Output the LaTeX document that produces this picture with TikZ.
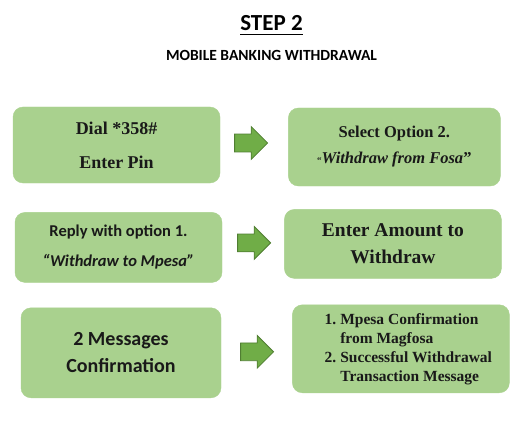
\documentclass[tikz,border=0pt]{standalone}
\usepackage{fontspec}
\setmainfont{Liberation Serif}
\newfontfamily\calibri{Carlito}
\usetikzlibrary{positioning,shapes.arrows}
\definecolor{boxgreen}{HTML}{A9D18E}
\definecolor{arrowgreen}{HTML}{70AD47}
\definecolor{arrowedge}{HTML}{507E32}

\begin{document}
\begin{tikzpicture}[
    x=1pt, y=-1pt,
    stepbox/.style={fill=boxgreen, draw=boxgreen, rounded corners=10pt, align=center, inner sep=0pt, text=black!90},
    blockarrow/.style={single arrow, fill=arrowgreen, draw=arrowedge, line width=0.8pt, minimum height=33pt, minimum width=32pt, text height=8.5pt, text depth=8.5pt, text width=0pt, single arrow head extend=7.5pt, inner sep=0pt},
    heading/.style={font=\calibri\bfseries\fontsize{23}{23}\selectfont, inner sep=0pt},
    subheading/.style={font=\calibri\bfseries\fontsize{15.5}{15.5}\selectfont, inner sep=0pt}
]
\useasboundingbox (0,0) rectangle (519,441);

% Title
\node[heading, anchor=base] (step) at (271.5,31) {STEP 2};
\draw[line width=1.8pt] ([yshift=-3.5pt]step.base west) -- ([yshift=-3.5pt]step.base east);
\node[subheading, below=30pt of step.base, anchor=base] (sub) {MOBILE BANKING WITHDRAWAL};

% Row 1
\node[stepbox, minimum width=207pt, minimum height=76pt, font=\bfseries\fontsize{18}{34}\selectfont] (dial) at (116.5,145) {Dial *358\#\\Enter Pin};
\node[blockarrow, right=14pt of dial, yshift=2pt] (a1) {};
\node[stepbox, minimum width=212pt, minimum height=78pt, font=\bfseries\fontsize{16.5}{26}\selectfont, right=20pt of a1, yshift=-4pt] (select) {Select Option 2.\\{\fontsize{9}{9}\selectfont“}\textit{Withdraw from Fosa}”};

% Row 2
\node[stepbox, minimum width=207pt, minimum height=70pt, font=\calibri\bfseries\fontsize{16.5}{30}\selectfont, below=29pt of dial, xshift=2pt] (reply) {Reply with option 1.\\\textit{“Withdraw to Mpesa”}};
\node[blockarrow, right=15pt of reply, yshift=4.5pt] (a2) {};
\node[stepbox, minimum width=217pt, minimum height=69pt, font=\bfseries\fontsize{19.5}{27}\selectfont, right=13pt of a2, yshift=-1pt] (amount) {Enter Amount to\\Withdraw};

% Row 3
\node[stepbox, minimum width=200pt, minimum height=90pt, font=\calibri\bfseries\fontsize{20}{27}\selectfont, below=25pt of reply, xshift=2.5pt] (msgs) {2 Messages\\Confirmation};
\node[blockarrow, right=19pt of msgs, yshift=1pt] (a3) {};
\node[stepbox, minimum width=217pt, minimum height=88pt, font=\bfseries\fontsize{15.5}{19}\selectfont, right=18pt of a3, yshift=3pt] (result) {%
  \begin{tabular}{@{\hspace{15pt}}r@{\hspace{4pt}}l@{}}
    1. & Mpesa Confirmation\\
       & from Magfosa\\
    2. & Successful Withdrawal\\
       & Transaction Message
  \end{tabular}};

\end{tikzpicture}
\end{document}
